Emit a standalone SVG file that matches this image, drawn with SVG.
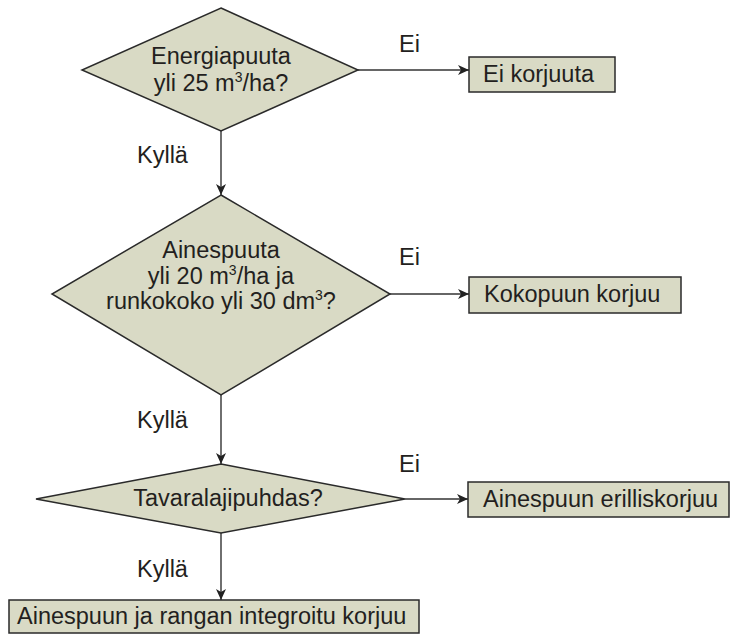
<svg xmlns="http://www.w3.org/2000/svg" width="730" height="634" viewBox="0 0 730 634">
<style>
.shape{fill:#d9dac5;stroke:#2a2a2a;stroke-width:1.5}
.t{font-family:"Liberation Sans",Arial,sans-serif;font-size:23.5px;fill:#231f20}
.c{text-anchor:middle}
.sup{font-size:14px}
.edge{stroke:#333;stroke-width:1.4;fill:none;marker-end:url(#ah)}
</style>
<defs>
<marker id="ah" markerWidth="12" markerHeight="10" refX="11" refY="5" orient="auto" markerUnits="userSpaceOnUse">
<path d="M0,0 L11,5 L0,10 L3,5 Z" fill="#222"/>
</marker>
</defs>
<rect width="730" height="634" fill="#fff"/>
<g id="connectors">
<line class="edge" x1="358" y1="70" x2="469" y2="70"/>
<line class="edge" x1="221" y1="131" x2="221" y2="195"/>
<line class="edge" x1="390" y1="294" x2="469" y2="294"/>
<line class="edge" x1="221" y1="395" x2="221" y2="464"/>
<line class="edge" x1="405" y1="499" x2="468" y2="499"/>
<line class="edge" x1="221" y1="533" x2="221" y2="600"/>
<text class="t" x="399" y="52">Ei</text>
<text class="t" x="137" y="163">Kyllä</text>
<text class="t" x="399" y="265">Ei</text>
<text class="t" x="137" y="428">Kyllä</text>
<text class="t" x="399" y="472">Ei</text>
<text class="t" x="137" y="577">Kyllä</text>
</g>
<g id="d1">
<polygon class="shape" points="221,8 358,70 221,131 82,70"/>
<text class="t c" x="221" y="64">Energiapuuta</text>
<text class="t c" x="221" y="91">yli 25 m<tspan class="sup" dy="-9">3</tspan><tspan dy="9">/ha?</tspan></text>
</g>
<g id="n1">
<rect class="shape" x="469" y="57" width="146" height="35"/>
<text class="t" x="483" y="82">Ei korjuuta</text>
</g>
<g id="d2">
<polygon class="shape" points="221,195 390,294 221,395 52,294"/>
<text class="t c" x="221" y="258">Ainespuuta</text>
<text class="t c" x="221" y="284">yli 20 m<tspan class="sup" dy="-9">3</tspan><tspan dy="9">/ha ja</tspan></text>
<text class="t c" x="221" y="309">runkokoko yli 30 dm<tspan class="sup" dy="-9">3</tspan><tspan dy="9">?</tspan></text>
</g>
<g id="n2">
<rect class="shape" x="469" y="277" width="212" height="36"/>
<text class="t" x="484" y="302">Kokopuun korjuu</text>
</g>
<g id="d3">
<polygon class="shape" points="221,464 405,499 221,533 36,499"/>
<text class="t c" x="228" y="506">Tavaralajipuhdas?</text>
</g>
<g id="n3">
<rect class="shape" x="468" y="482" width="261" height="35"/>
<text class="t" x="483" y="507">Ainespuun erilliskorjuu</text>
</g>
<g id="n4">
<rect class="shape" x="9" y="600" width="410" height="33"/>
<text class="t" x="17" y="624">Ainespuun ja rangan integroitu korjuu</text>
</g>
</svg>
